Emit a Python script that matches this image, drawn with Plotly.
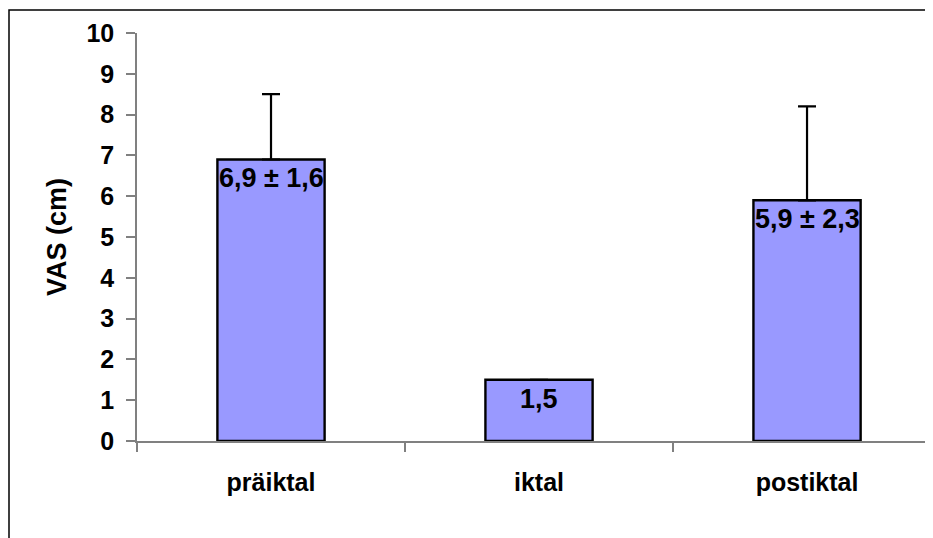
import plotly.graph_objects as go

categories = ["präiktal", "iktal", "postiktal"]
means = [6.9, 1.5, 5.9]
sd_plus = [1.6, None, 2.3]
labels = ["6,9 ± 1,6", "1,5", "5,9 ± 2,3"]
y_ticks = list(range(0, 11))

FONT = "Liberation Sans, Arial, sans-serif"

fig = go.Figure()
fig.add_trace(go.Bar(
    x=categories, y=means, width=0.40,
    marker=dict(color="#9999FF", line=dict(color="black", width=2.4)),
    error_y=dict(type="data", symmetric=False, array=sd_plus,
                 arrayminus=[0] * len(means), color="black",
                 thickness=2.2, width=9, visible=True),
    hoverinfo="skip",
))

for c, m, t in zip(categories, means, labels):
    fig.add_annotation(x=c, y=m, text="<b>" + t + "</b>", showarrow=False,
                       yanchor="top", yshift=-2,
                       font=dict(family=FONT, size=27, color="black"))

fig.add_shape(type="rect", xref="paper", yref="paper",
              x0=-0.1608, x1=1.05, y0=-0.3, y1=1.0564,
              line=dict(color="black", width=1.5), fillcolor="rgba(0,0,0,0)",
              layer="below")

fig.update_layout(
    width=925, height=530,
    margin=dict(l=129, r=0, t=25, b=97),
    paper_bgcolor="white", plot_bgcolor="white",
    showlegend=False,
    font=dict(family=FONT, size=25, color="black"),
    xaxis=dict(range=[-0.5, 2.47], showline=True, linecolor="#808080", linewidth=1.5,
               ticks="outside", tickson="boundaries", ticklen=9, tickcolor="#808080",
               tickwidth=1.5, showgrid=False, zeroline=False,
               tickfont=dict(family=FONT, size=25, color="black", weight="bold"),
               ticklabelstandoff=18),
    yaxis=dict(range=[0, 10], tickvals=y_ticks, showline=True, linecolor="#808080",
               linewidth=1.5, ticks="outside", ticklen=9, tickcolor="#808080", tickwidth=1.5,
               showgrid=False, zeroline=False,
               tickfont=dict(family=FONT, size=25, color="black", weight="bold"),
               ticklabelstandoff=7,
               title=dict(text="<b>VAS (cm)</b>", font=dict(family=FONT, size=27, color="black"),
                          standoff=12)),
)

fig.write_html("out.html")
